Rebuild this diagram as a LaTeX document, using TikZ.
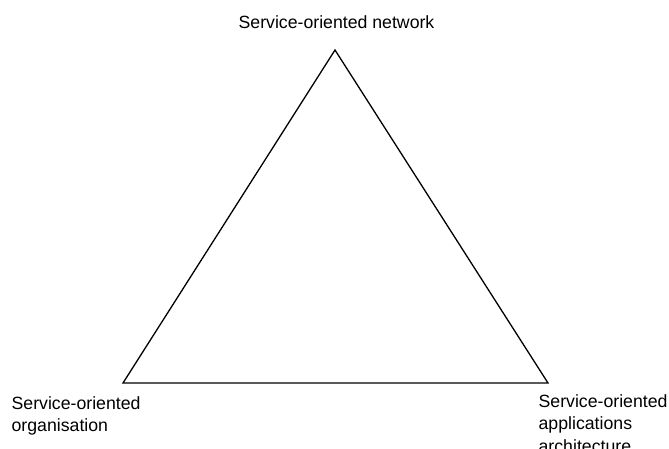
\documentclass[tikz,border=0pt]{standalone}
\usepackage{fontspec}
\setmainfont{Liberation Sans}
\usetikzlibrary{positioning}

\begin{document}
\begin{tikzpicture}[x=1pt,y=-1pt,line width=1.3pt,
	corner/.style={inner sep=0pt,align=left,font=\fontsize{17.7}{22.5}\selectfont}]
				\useasboundingbox (0,0) rectangle (669,448);
				\coordinate (t_top) at (335,50);
				\coordinate (t_left) at (123,383);
				\coordinate (t_right) at (548,383);
				
				\draw[line join=miter] (t_top) -- (t_left) -- (t_right) -- cycle;
				
				\node[corner,anchor=north] (network) at (336.5,15) {Service-oriented network};
				\node[corner,anchor=north west] (organisation) at (11,396) {Service-oriented\\organisation};
				\node[corner,anchor=north west] (applications) at (538,394) {Service-oriented\\applications\\architecture};
				
\end{tikzpicture}
\end{document}
